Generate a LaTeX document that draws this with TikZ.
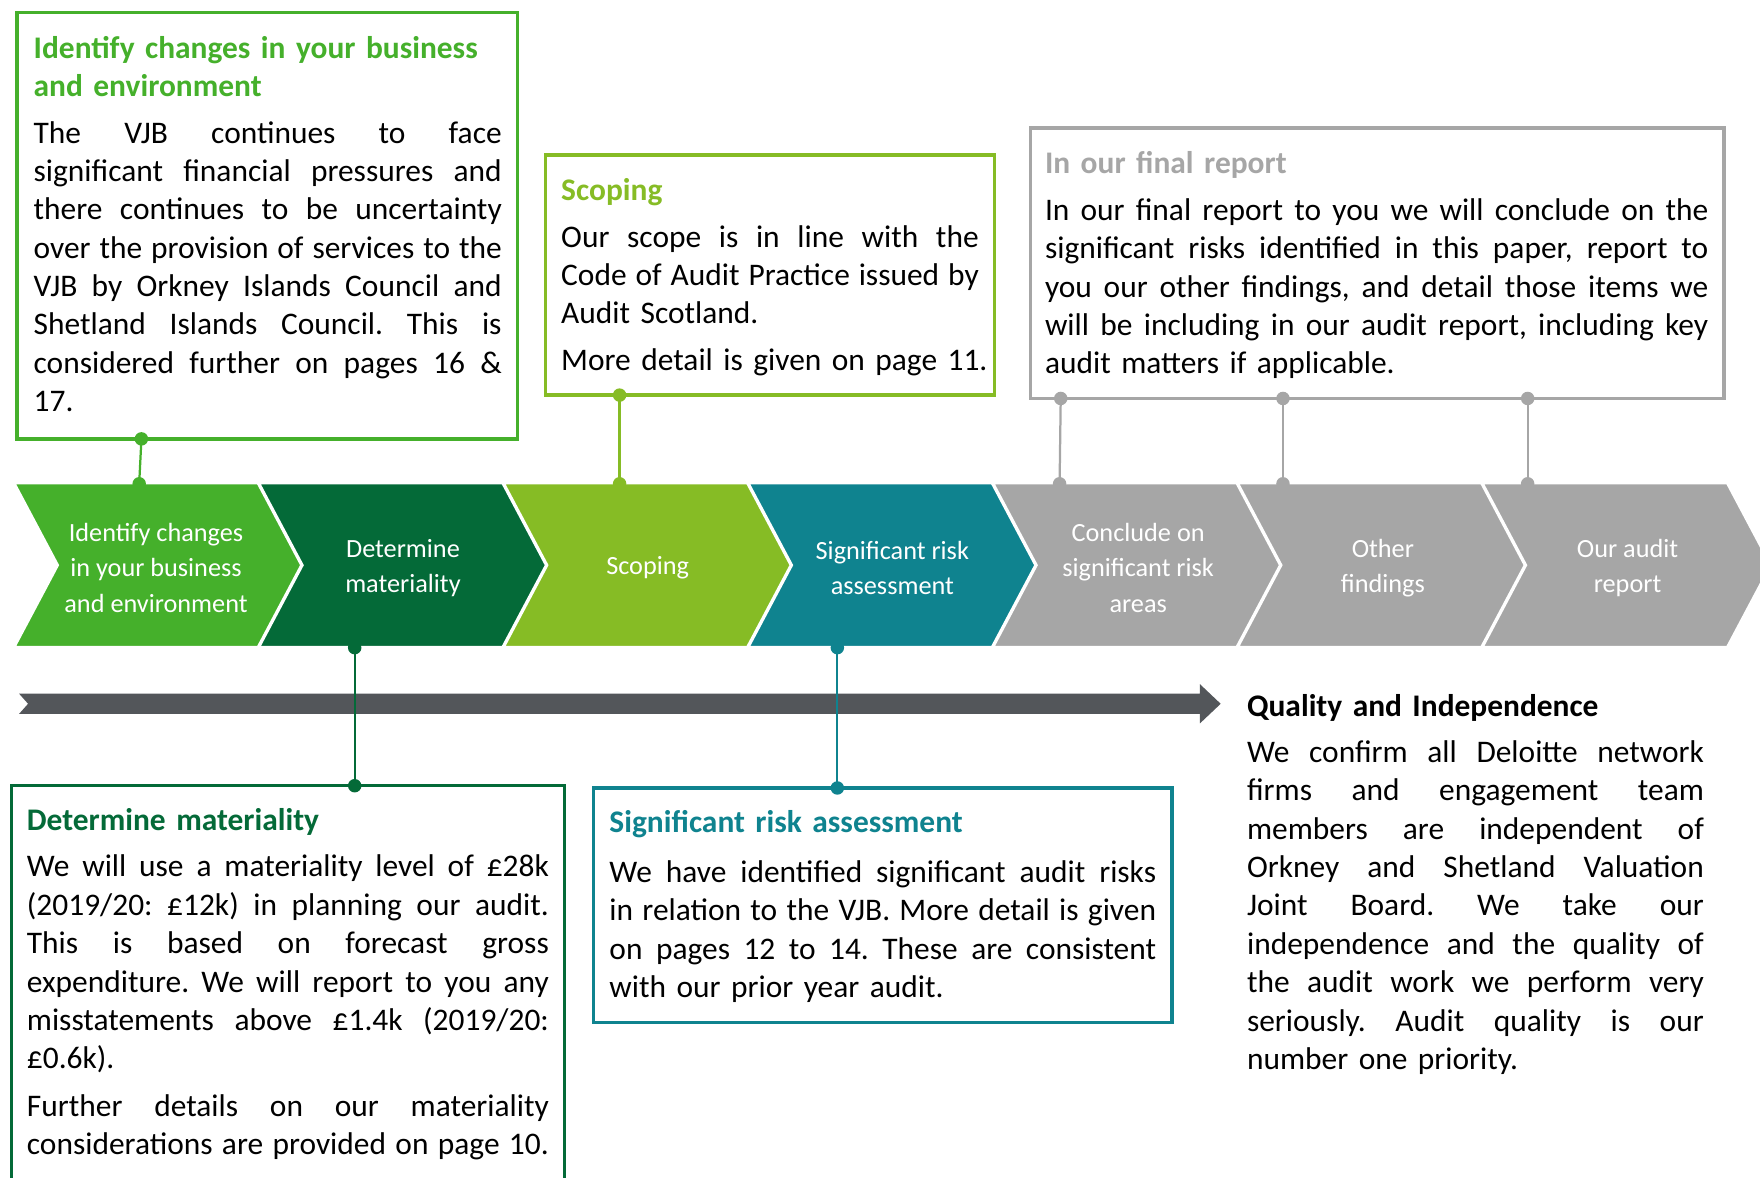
\documentclass[tikz,border=0pt]{standalone}
\usepackage{fontspec}
\setmainfont{Carlito}
\definecolor{cGreen}{HTML}{45B02B}
\definecolor{cDark}{HTML}{046A38}
\definecolor{cLime}{HTML}{86BC25}
\definecolor{cTeal}{HTML}{0F838F}
\definecolor{cGray}{HTML}{A6A6A6}
\definecolor{cArrow}{HTML}{53565A}
\def\jw{100pt}
\newcommand{\jl}[1]{\leavevmode\hbox to \jw{\spaceskip=0.226em plus 2em minus 0.09em\relax #1}}
\frenchspacing
\begin{document}
\begin{tikzpicture}[x=0.5pt,y=-0.5pt,
  box/.style={line width=1.5pt, fill=white, inner sep=0pt, outer sep=0pt, anchor=north west},
  conn/.style={line width=1pt},
  body/.style={anchor=base west, inner sep=0pt, outer sep=0pt,
    font=\fontsize{14pt}{17.1pt}\selectfont},
  chevtext/.style={white, align=center, inner sep=0pt, font=\fontsize{11.7pt}{15.75pt}\selectfont}]
\useasboundingbox (0,0) rectangle (1568,1049);

% boxes
\node[box, draw=cGreen, minimum width=223pt, minimum height=190pt] (b1) at (15,11) {};
\node[box, draw=cLime, minimum width=200pt, minimum height=107pt] (b2) at (486,138) {};
\node[box, draw=cGray, minimum width=309pt, minimum height=120.5pt] (b3) at (918,114) {};
\node[box, draw=cDark, minimum width=246.5pt, minimum height=180pt, overlay] (b4) at (10,700) {};
\node[box, draw=cTeal, minimum width=257.5pt, minimum height=104.5pt] (b5) at (529,702) {};

% chevrons
\foreach \i/\cc in {0/cGreen,1/cDark,2/cLime,3/cTeal,4/cGray,5/cGray,6/cGray}{
  \filldraw[overlay, fill=\cc, draw=white, line width=1.5pt] ({12+218*\i},430) -- ++(219,0) -- ++(39,73.5) -- ++(-39,73.5) -- ++(-219,0) -- ++(39,-73.5) -- cycle;
}
\node[chevtext] (ch1) at (139,506) {Identify changes\\in your business\\and environment};
\node[chevtext] (ch2) at (359,506) {Determine\\materiality};
\node[chevtext] (ch3) at (577,506) {Scoping};
\node[chevtext] (ch4) at (795,506) {Significant risk\\assessment};
\node[chevtext] (ch5) at (1014,506) {Conclude on\\significant risk\\areas};
\node[chevtext] (ch6) at (1232,506) {Other\\findings};
\node[chevtext] (ch7) at (1450,506) {Our audit\\report};

% timeline arrow
\fill[cArrow] (17,618) -- (1069,618) -- (1069,609.5) -- (1087.5,627) -- (1069,644.5) -- (1069,636) -- (17,636) -- (25,627) -- cycle;

% connector end points
\coordinate (p1a) at (126,391); \coordinate (p1b) at (124,431);
\coordinate (p2a) at (552,352); \coordinate (p2b) at (552,431);
\coordinate (p3a) at (945,355); \coordinate (p3b) at (944,431);
\coordinate (p4a) at (1143,355); \coordinate (p4b) at (1143,431);
\coordinate (p5a) at (1361,355); \coordinate (p5b) at (1361,431);
\coordinate (p6a) at (316,577); \coordinate (p6b) at (316,700);
\coordinate (p7a) at (746,577); \coordinate (p7b) at (746,702);
\draw[conn, cGreen] (p1a) -- (p1b);
\draw[conn, cLime] (p2a) -- (p2b);
\draw[conn, cGray] (p3a) -- (p3b);
\draw[conn, cGray] (p4a) -- (p4b);
\draw[conn, cGray] (p5a) -- (p5b);
\draw[conn, cDark] (p6a) -- (p6b);
\draw[conn, cTeal] (p7a) -- (p7b);
\fill[cGreen] (p1a) circle (3pt) (p1b) circle (3pt);
\fill[cLime] (p2a) circle (3pt) (p2b) circle (3pt);
\fill[cGray] (p3a) circle (3pt) (p3b) circle (3pt) (p4a) circle (3pt) (p4b) circle (3pt) (p5a) circle (3pt) (p5b) circle (3pt);
\fill[cDark] (p6a) circle (3pt) (p6b) circle (3pt);
\fill[cTeal] (p7a) circle (3pt) (p7b) circle (3pt);

% texts
\node[body, text width=208.5pt] (t1) at (30,52) {\def\jw{208.5pt}{\bfseries\color{cGreen}Identify changes in your business\\and environment}\\[3.5pt]
\jl{The VJB continues to face}\\
\jl{significant financial pressures and}\\
\jl{there continues to be uncertainty}\\
\jl{over the provision of services to the}\\
\jl{VJB by Orkney Islands Council and}\\
\jl{Shetland Islands Council. This is}\\
\jl{considered further on pages 16 \&}\\
\mbox{17.}};

\node[body, text width=186pt] (t2) at (500,179) {\def\jw{186pt}{\bfseries\color{cLime}Scoping}\\[3.5pt]
\jl{Our scope is in line with the}\\
\jl{Code of Audit Practice issued by}\\
\mbox{Audit Scotland.}\\[3.5pt]
\mbox{More detail is given on page 11.}};

\node[body, text width=295.5pt] (t3) at (931,155) {\def\jw{295.5pt}{\bfseries\color{cGray}In our final report}\\[3.5pt]
\jl{In our final report to you we will conclude on the}\\
\jl{significant risks identified in this paper, report to}\\
\jl{you our other findings, and detail those items we}\\
\jl{will be including in our audit report, including key}\\
\mbox{audit matters if applicable.}};

\node[body, text width=232.5pt] (t4) at (24,740) {\def\jw{232.5pt}{\bfseries\color{cDark}Determine materiality}\\[3.5pt]
\jl{We will use a materiality level of £28k}\\
\jl{(2019/20: £12k) in planning our audit.}\\
\jl{This is based on forecast gross}\\
\jl{expenditure. We will report to you any}\\
\jl{misstatements above £1.4k (2019/20:}\\
\mbox{£0.6k).}\\[4pt]
\jl{Further details on our materiality}\\
\jl{considerations are provided on page 10.}};

\node[body, text width=243.5pt] (t5) at (543,742) {\def\jw{243.5pt}{\bfseries\color{cTeal}Significant risk assessment}\\[5pt]
\jl{We have identified significant audit risks}\\
\jl{in relation to the VJB. More detail is given}\\
\jl{on pages 12 to 14. These are consistent}\\
\mbox{with our prior year audit.}};

\node[body, text width=203.5pt] (t6) at (1111,638) {\def\jw{203.5pt}{\bfseries Quality and Independence}\\[3.5pt]
\jl{We confirm all Deloitte network}\\
\jl{firms and engagement team}\\
\jl{members are independent of}\\
\jl{Orkney and Shetland Valuation}\\
\jl{Joint Board. We take our}\\
\jl{independence and the quality of}\\
\jl{the audit work we perform very}\\
\jl{seriously. Audit quality is our}\\
\mbox{number one priority.}};
\end{tikzpicture}
\end{document}
